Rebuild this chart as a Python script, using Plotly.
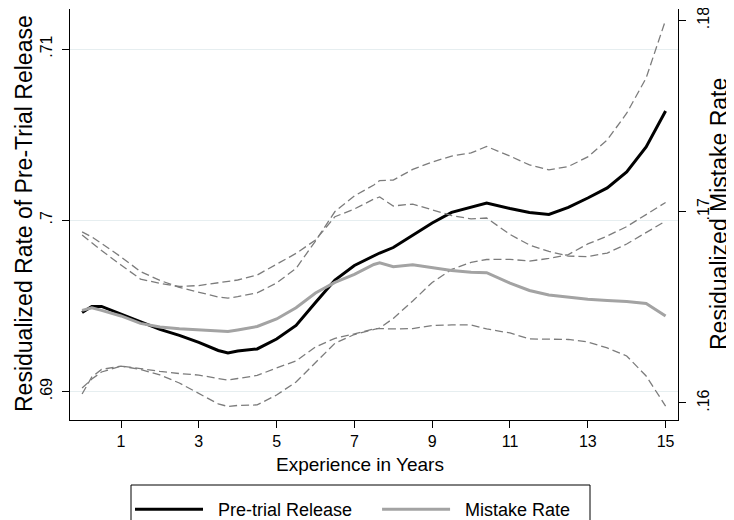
import plotly.graph_objects as go

years = [0, 0.25, 0.5, 1, 1.5, 2, 2.5, 3, 3.5, 3.75, 4, 4.5, 5, 5.5, 6, 6.5, 7, 7.5, 7.65,
         8, 8.5, 9, 9.5, 10, 10.4, 11, 11.5, 12, 12.5, 13, 13.5, 14, 14.5, 15]

release = [0.69462, 0.69497, 0.69497, 0.69453, 0.69406, 0.69363, 0.69328, 0.69287, 0.69240,
           0.69225, 0.69237, 0.69249, 0.69307, 0.69386, 0.69520, 0.69651, 0.69736, 0.69792,
           0.69809, 0.69841, 0.69911, 0.69984, 0.70046, 0.70075, 0.70101, 0.70069, 0.70046,
           0.70034, 0.70075, 0.70130, 0.70189, 0.70282, 0.70428, 0.70638]
release_hi = [0.69932, 0.69903, 0.69865, 0.69786, 0.69701, 0.69649, 0.69608, 0.69579, 0.69552,
              0.69546, 0.69554, 0.69576, 0.69634, 0.69719, 0.69879, 0.70051, 0.70142, 0.70206,
              0.70232, 0.70235, 0.70297, 0.70340, 0.70375, 0.70393, 0.70431, 0.70375, 0.70323,
              0.70294, 0.70314, 0.70370, 0.70469, 0.70625, 0.70831, 0.71169]
release_lo = [0.68986, 0.69085, 0.69129, 0.69149, 0.69129, 0.69097, 0.69050, 0.68989, 0.68928,
              0.68913, 0.68919, 0.68922, 0.68980, 0.69056, 0.69167, 0.69282, 0.69333, 0.69363,
              0.69371, 0.69427, 0.69529, 0.69637, 0.69713, 0.69754, 0.69771, 0.69772, 0.69762,
              0.69777, 0.69800, 0.69862, 0.69908, 0.69963, 0.70031, 0.70104]

mistake = [0.16484, 0.16497, 0.16484, 0.16455, 0.16416, 0.16397, 0.16388, 0.16383, 0.16375,
           0.16374, 0.16382, 0.16400, 0.16439, 0.16498, 0.16575, 0.16630, 0.16672, 0.16724,
           0.16733, 0.16712, 0.16723, 0.16706, 0.16693, 0.16683, 0.16681, 0.16627, 0.16588,
           0.16565, 0.16552, 0.16542, 0.16536, 0.16531, 0.16520, 0.16455]
mistake_hi = [0.16878, 0.16836, 0.16797, 0.16721, 0.16648, 0.16625, 0.16609, 0.16614, 0.16627,
              0.16635, 0.16643, 0.16669, 0.16724, 0.16782, 0.16852, 0.16974, 0.17014, 0.17066,
              0.17077, 0.17030, 0.17040, 0.17009, 0.16980, 0.16962, 0.16967, 0.16881, 0.16826,
              0.16792, 0.16768, 0.16765, 0.16784, 0.16831, 0.16889, 0.16951]
mistake_lo = [0.16078, 0.16125, 0.16162, 0.16193, 0.16180, 0.16165, 0.16154, 0.16146, 0.16128,
              0.16120, 0.16128, 0.16144, 0.16183, 0.16220, 0.16293, 0.16338, 0.16361, 0.16388,
              0.16389, 0.16387, 0.16389, 0.16405, 0.16408, 0.16408, 0.16387, 0.16366, 0.16335,
              0.16332, 0.16332, 0.16319, 0.16288, 0.16246, 0.16141, 0.15984]

x_ticks = [1, 3, 5, 7, 9, 11, 13, 15]
left_ticks = [0.69, 0.70, 0.71]
left_labels = [".69", ".7", ".71"]
right_ticks = [0.16, 0.17, 0.18]
right_labels = [".16", ".17", ".18"]

FONT = "Liberation Sans, Arial, Helvetica, sans-serif"
DASH = dict(color="#7c7c7c", width=1.3, dash="8px,4px")

fig = go.Figure()
for ys, ax in [(release_hi, "y"), (release_lo, "y"), (mistake_hi, "y2"), (mistake_lo, "y2")]:
    fig.add_trace(go.Scatter(x=years, y=ys, yaxis=ax, mode="lines", line=DASH,
                             showlegend=False, hoverinfo="skip"))

fig.add_trace(go.Scatter(x=years, y=mistake, yaxis="y2", mode="lines",
                         name="\u00a0\u00a0Mistake Rate\u00a0",
                         line=dict(color="#a3a3a3", width=3)))
fig.add_trace(go.Scatter(x=years, y=release, yaxis="y", mode="lines",
                         name="\u00a0\u00a0Pre-trial Release" + "\u00a0" * 4,
                         line=dict(color="black", width=3)))

# the page shows the figure 8px in from the top-left corner, so layout pixels are
# given in figure coordinates (screen position minus 8)
W, H = 734, 520
L, R, T, B = 62, 64, 1, 108
pw, ph = W - L - R, H - T - B

def px_x(p):
    return (p - L) / pw

def px_y(p):
    return (H - B - p) / ph

fig.update_layout(
    width=W, height=H,
    margin=dict(l=L, r=R, t=T, b=B, pad=0, autoexpand=False),
    paper_bgcolor="white", plot_bgcolor="white",
    font=dict(family=FONT, size=16, color="black"),
    showlegend=True,
    legend=dict(orientation="h", x=px_x(122), xanchor="left", y=px_y(483), yanchor="top",
                borderwidth=0, bgcolor="rgba(0,0,0,0)",
                font=dict(size=18, color="black", family=FONT), itemwidth=68,
                traceorder="reversed"),
    xaxis=dict(range=[-0.311, 15.319], tickvals=x_ticks, ticks="outside", ticklen=7,
               tickcolor="black", showline=True, linecolor="black", linewidth=1,
               showgrid=False, zeroline=False, tickfont=dict(size=16), automargin=False),
    yaxis=dict(range=[0.68834, 0.712335], tickvals=left_ticks, ticktext=left_labels,
               tickangle=-90, ticks="outside", ticklen=7, tickcolor="black",
               showline=True, linecolor="black", linewidth=1, ticklabelstandoff=4,
               ticklabeloverflow="allow",
               showgrid=True, gridcolor="#e6eef0", gridwidth=1, zeroline=False,
               tickfont=dict(size=16), automargin=False),
    yaxis2=dict(range=[0.159111, 0.180596], tickvals=right_ticks, ticktext=right_labels,
                tickangle=-90, ticks="outside", ticklen=7, tickcolor="black",
                showline=True, linecolor="black", linewidth=1, overlaying="y", side="right",
                ticklabelstandoff=4, ticklabeloverflow="allow",
                showgrid=False, zeroline=False, tickfont=dict(size=16), automargin=False),
    shapes=[
        dict(type="rect", xref="paper", yref="paper", x0=px_x(123), x1=px_x(582),
             y0=px_y(477), y1=px_y(530), line=dict(color="black", width=1),
             fillcolor="rgba(0,0,0,0)", layer="below"),
    ],
    annotations=[
        dict(text="Experience in Years", xref="paper", yref="paper", x=px_x(352), y=px_y(456),
             xanchor="center", yanchor="middle", showarrow=False, font=dict(size=19)),
        dict(text="Residualized Rate of Pre-Trial Release", xref="paper", yref="paper",
             x=px_x(16), y=px_y(206), xanchor="center", yanchor="middle", textangle=-90,
             showarrow=False, font=dict(size=23)),
        dict(text="Residualized Mistake Rate", xref="paper", yref="paper",
             x=px_x(711), y=px_y(206), xanchor="center", yanchor="middle", textangle=-90,
             showarrow=False, font=dict(size=23)),
    ],
)

fig.write_html("out.html")
